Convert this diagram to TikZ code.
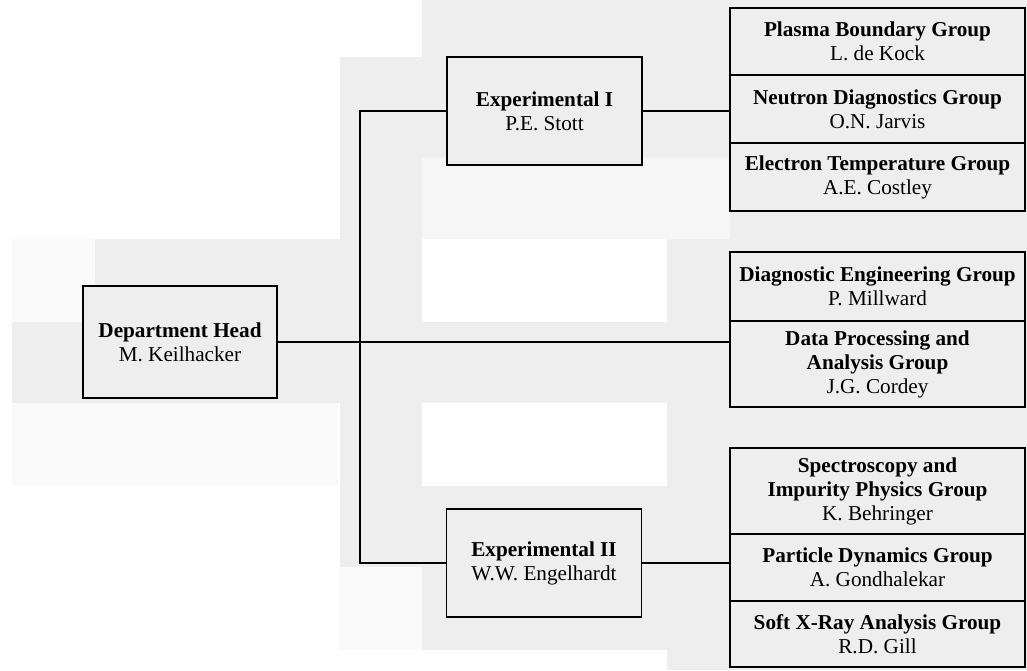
\documentclass[tikz,border=0pt]{standalone}
\usepackage{fontspec}
\setmainfont{Liberation Serif}
\usetikzlibrary{positioning}

\definecolor{scangray}{HTML}{EEEEEE}
\definecolor{scanlight}{HTML}{F6F6F6}
\definecolor{scanpale}{HTML}{FAFAFA}

\tikzset{
  unit/.style={draw, line width=0.8pt, fill=scangray, inner sep=0pt, outer sep=0pt,
    align=center, font=\fontsize{10.6}{12}\selectfont},
  headbox/.style={unit, minimum width=97.5pt, minimum height=54pt},
  groupbox/.style={unit, minimum width=147.5pt},
  link/.style={line width=0.8pt},
}

\begin{document}
\begin{tikzpicture}[x=0.5pt, y=-0.5pt]
	\useasboundingbox (0,0) rectangle (1027,670);
	%% scanned background
	\fill[scangray] (340,0) rectangle (1027,650);
	\fill[scangray] (12,239) rectangle (340,403);
	\fill[scangray] (667,650) rectangle (1027,670);
	\fill[white] (340,0) rectangle (422,57);
	\fill[scanlight] (422,158) rectangle (730,239);
	\fill[white] (422,239) rectangle (667,322);
	\fill[white] (422,403) rectangle (667,486);
	\fill[scanpale] (12,239) rectangle (95,322);
	\fill[scanpale] (12,403) rectangle (338,486);
	\fill[scanpale] (338,567) rectangle (422,650);
	%%
	\node[headbox, minimum width=97pt, minimum height=56pt] (head) at (180,342)
		{\textbf{Department Head}\\M. Keilhacker};
	\node[headbox] (expI) at (544.5,111) {\textbf{Experimental I}\\P.E. Stott};
	\node[headbox] (expII) at (544,563) {\textbf{Experimental II}\\W.W. Engelhardt};
	%%
	\node[groupbox, minimum height=33.5pt] (plasma) at (877.5,41.5)
		{\textbf{Plasma Boundary Group}\\L. de Kock};
	\node[groupbox, minimum height=34pt, below=0pt of plasma] (neutron)
		{\textbf{Neutron Diagnostics Group}\\O.N. Jarvis};
	\node[groupbox, minimum height=34pt, below=0pt of neutron] (electron)
		{\textbf{Electron Temperature Group}\\A.E. Costley};
	%%
	\node[groupbox, minimum height=34.5pt] (diageng) at (877.5,286.5)
		{\textbf{Diagnostic Engineering Group}\\P. Millward};
	\node[groupbox, minimum height=43pt, below=0pt of diageng] (dataproc)
		{\textbf{Data Processing and}\\\textbf{Analysis Group}\\J.G. Cordey};
	%%
	\node[groupbox, minimum height=43pt] (spectro) at (877.5,491)
		{\textbf{Spectroscopy and}\\\textbf{Impurity Physics Group}\\K. Behringer};
	\node[groupbox, minimum height=33.5pt, below=0pt of spectro] (particle)
		{\textbf{Particle Dynamics Group}\\A. Gondhalekar};
	\node[groupbox, minimum height=33pt, below=0pt of particle] (softx)
		{\textbf{Soft X-Ray Analysis Group}\\R.D. Gill};
	%%
	\coordinate (fork) at (360,342);
	\draw[link] (head.east) -- (head.east -| dataproc.west);
	\draw[link] (expI.west) -| (fork) |- (expII.west);
	\draw[link] (expI.east) -- (expI.east -| neutron.west);
	\draw[link] (expII.east) -- (expII.east -| particle.west);
\end{tikzpicture}
\end{document}
